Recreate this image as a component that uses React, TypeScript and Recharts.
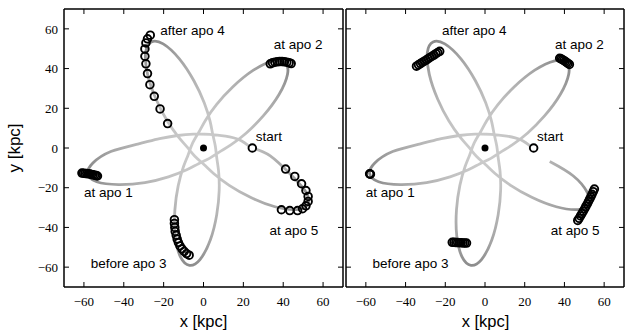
import React from 'react';
import { ScatterChart, Scatter, XAxis, YAxis } from 'recharts';

type Pt = { x: number; y: number };
type Note = { x: number; y: number; text: string };
const pts = (arr: number[][]): Pt[] => arr.map(([x, y]) => ({ x, y }));

// Axis ticks (kpc)
const axisTicks = [-60, -40, -20, 0, 20, 40, 60];
const axisDomain: [number, number] = [-70, 70];

// Orbit track, in time order from the start point through five apocentres
const orbitCommon = [
  [24, 0], [18, 4.1], [11, 6.0], [3, 6.9], [-5, 7.0], [-13, 6.3], [-22, 4.7], [-33, 2.0],
  [-46.5, -1.8], [-55.5, -7.6], [-58.1, -13.0],
  [-53.6, -17.0], [-42.6, -18.4], [-29.4, -17.4], [-17.6, -14.5], [-8.4, -11.0], [-2.5, -7.9],
  [2.95, -5.22], [8.07, -1.95], [13.71, 1.54], [21.5, 7.57], [30.08, 16.27], [37.9, 26.94],
  [42.16, 37.17], [41.03, 43.09], [35.06, 43.92], [25.05, 39.18], [14.78, 30.84], [6.51, 21.85],
  [0.87, 13.77], [-2.34, 7.96], [-5.43, 2.55], [-7.63, -3.27], [-10.06, -9.45], [-12.68, -18.95],
  [-14.35, -31.05], [-14.22, -44.27], [-11.49, -55.01], [-7.04, -59.08], [-1.77, -56.17],
  [3.41, -46.37], [6.64, -33.55], [7.87, -21.4], [7.56, -11.55], [6.65, -4.97], [5.92, 1.01],
  [4.63, 6.89], [3.31, 13.4], [0.36, 22.8], [-4.82, 33.86], [-12.11, 44.9], [-20.23, 52.43],
  [-26.17, 53.43], [-29.03, 48.12], [-28.05, 37.09], [-23.8, 24.56], [-18.23, 13.69],
  [-12.62, 5.59], [-8.28, 0.56], [-4.33, -4.15], [0.22, -8.3], [5.06, -12.84], [12.91, -18.79],
  [23.54, -24.81], [35.88, -29.58], [46.87, -31.02], [52.29, -28.39], [51.54, -22.41],
  [44.35, -13.98],
];
const orbitLeft = pts([...orbitCommon, [33.5, -4.0], [24.5, 0]]);
const orbitRight = pts([...orbitCommon, [32.6, -6.8]]);

// Stream particles, left panel
const leftApo1 = pts([
  [-61, -12.6], [-60.2, -12.7], [-59.4, -12.8], [-58.6, -12.9], [-57.8, -13.0], [-57, -13.1],
  [-56.2, -13.3], [-55.4, -13.5], [-54.6, -13.7], [-53.8, -13.9], [-53.2, -14.1],
]);
const leftApo2 = pts([
  [33.5, 42.4], [34.6, 42.9], [35.8, 43.2], [37, 43.4], [38.2, 43.5], [39.4, 43.5],
  [40.6, 43.4], [41.8, 43.2], [43, 42.9], [44, 42.5],
]);
const leftApo3 = pts([
  [-14.6, -36.1], [-14.6, -38.0], [-14.4, -40.0], [-14.2, -42.0], [-13.7, -44.0], [-13.2, -45.9],
  [-12.6, -47.6], [-11.8, -49.3], [-10.8, -50.8], [-9.7, -52.1], [-8.5, -53.2], [-7.2, -54.0],
]);
const leftApo4 = pts([
  [-26.7, 56.8], [-28.1, 55], [-28.9, 52.9], [-29.4, 49.9], [-29.4, 46.2], [-28.9, 42.4],
  [-28.1, 37.5], [-26.9, 31.9], [-24.7, 26], [-21.8, 19.7], [-18, 12.3],
]);
const leftApo5 = pts([
  [41.2, -10.6], [45.8, -14.3], [49.2, -18], [51.4, -21.4], [52.5, -24.4], [52.5, -26.9],
  [51.4, -29.1], [49.7, -30.6], [47.2, -31.5], [43.3, -31.5], [39.1, -31.1],
]);

// Stream particles, right panel
const rightApo1 = pts([[-58.1, -13.0], [-57.9, -13.1], [-57.7, -13.2]]);
const rightApo2 = pts([
  [37.6, 45.2], [38.3, 44.9], [39.0, 44.5], [39.7, 44.1], [40.4, 43.6], [41.1, 43.1],
  [41.8, 42.6], [42.5, 42.1],
]);
const rightApo3 = pts([
  [-16.5, -47.5], [-15.6, -47.5], [-14.7, -47.6], [-13.8, -47.6], [-12.9, -47.7], [-12, -47.7],
  [-11.1, -47.8], [-10.2, -47.8], [-9.3, -47.9],
]);
const rightApo4 = pts([
  [-34.5, 41.2], [-33.5, 41.9], [-32.5, 42.5], [-31.6, 43.1], [-30.6, 43.7], [-29.6, 44.3],
  [-28.6, 45.0], [-27.7, 45.6], [-26.7, 46.2], [-25.7, 46.8], [-24.7, 47.5], [-23.8, 48.1],
  [-22.8, 48.7],
]);
const rightApo5 = pts([
  [46.7, -36.5], [47.4, -35.4], [48.1, -34.2], [48.8, -33.0], [49.5, -31.8], [50.2, -30.6],
  [50.8, -29.4], [51.5, -28.2], [52.1, -27.0], [52.7, -25.8], [53.3, -24.6], [53.9, -23.3],
  [54.5, -22.0], [55.1, -20.7],
]);

const startPoint = pts([[24.5, 0]]);
const centre = pts([[0, 0]]);

// Annotation anchors (text start, baseline) in kpc
const notes: Note[] = [
  { x: -21.7, y: 57.1, text: 'after apo 4' },
  { x: 35.2, y: 50.1, text: 'at apo 2' },
  { x: 26.2, y: 3.3, text: 'start' },
  { x: -60, y: -24.9, text: 'at apo 1' },
  { x: 33.1, y: -43.7, text: 'at apo 5' },
  { x: -56.6, y: -60.5, text: 'before apo 3' },
];

const SANS = "'Liberation Sans', Arial, Helvetica, sans-serif";
const SERIF = "'Liberation Serif', 'DejaVu Serif', serif";

const fmt = (v: number) => (v < 0 ? '\u2212' + Math.abs(v) : String(v));

const BottomTick = (p: any) => (
  <g>
    <line x1={p.x} x2={p.x} y1={p.y} y2={p.y - 5} stroke="#000" strokeWidth={1} />
    <text x={p.x} y={p.y + 19} textAnchor="middle" fontFamily={SERIF} fontSize={13} fill="#000">
      {fmt(p.payload.value)}
    </text>
  </g>
);
const TopTick = (p: any) => (
  <line x1={p.x} x2={p.x} y1={p.y} y2={p.y + 5} stroke="#000" strokeWidth={1} />
);
const LeftTickLabelled = (p: any) => (
  <g>
    <line x1={p.x} x2={p.x + 5} y1={p.y} y2={p.y} stroke="#000" strokeWidth={1} />
    <text x={p.x - 6} y={p.y} dy="0.36em" textAnchor="end" fontFamily={SERIF} fontSize={13} fill="#000">
      {fmt(p.payload.value)}
    </text>
  </g>
);
const LeftTickBare = (p: any) => (
  <line x1={p.x} x2={p.x + 5} y1={p.y} y2={p.y} stroke="#000" strokeWidth={1} />
);
const RightTick = (p: any) => (
  <line x1={p.x} x2={p.x - 5} y1={p.y} y2={p.y} stroke="#000" strokeWidth={1} />
);

const Blank = () => <g />;
const Ring = (p: any) =>
  p.cx == null ? <g /> : (
    <circle cx={p.cx} cy={p.cy} r={3.8} fill="none" stroke="#000" strokeWidth={1.9} />
  );
const StartRing = (p: any) =>
  p.cx == null ? <g /> : (
    <circle cx={p.cx} cy={p.cy} r={3.8} fill="#fff" stroke="#000" strokeWidth={1.9} />
  );
const Dot = (p: any) =>
  p.cx == null ? <g /> : <circle cx={p.cx} cy={p.cy} r={3.5} fill="#000" />;
const NoteText = (p: any) =>
  p.cx == null ? <g /> : (
    <text x={p.cx} y={p.cy} fontFamily={SANS} fontSize={13.5} fill="#000">
      {p.payload.text}
    </text>
  );

const frame = { stroke: '#000', strokeWidth: 1.5 };

type PanelProps = {
  left: number;
  width: number;
  yAxisWidth: number;
  showYLabels: boolean;
  orbit: Pt[];
  groups: Pt[][];
};

function Panel({ left, width, yAxisWidth, showYLabels, orbit, groups }: PanelProps) {
  return (
    <div style={{ position: 'absolute', left, top: 0 }}>
      <ScatterChart width={width} height={331} margin={{ top: 8, right: 1, bottom: 0, left: 0 }}>
        <XAxis
          dataKey="x"
          type="number"
          domain={axisDomain}
          ticks={axisTicks}
          interval={0}
          allowDataOverflow
          height={44}
          tickSize={0}
          tickMargin={0}
          tickLine={false}
          tick={BottomTick}
          axisLine={frame}
        />
        <XAxis
          xAxisId="top"
          orientation="top"
          dataKey="x"
          type="number"
          domain={axisDomain}
          ticks={axisTicks}
          interval={0}
          allowDataOverflow
          height={1}
          tickSize={0}
          tickMargin={0}
          tickLine={false}
          tick={TopTick}
          axisLine={frame}
        />
        <YAxis
          dataKey="y"
          type="number"
          domain={axisDomain}
          ticks={axisTicks}
          interval={0}
          allowDataOverflow
          width={yAxisWidth}
          tickSize={0}
          tickMargin={0}
          tickLine={false}
          tick={showYLabels ? LeftTickLabelled : LeftTickBare}
          axisLine={frame}
        />
        <YAxis
          yAxisId="right"
          orientation="right"
          dataKey="y"
          type="number"
          domain={axisDomain}
          ticks={axisTicks}
          interval={0}
          allowDataOverflow
          width={1}
          tickSize={0}
          tickMargin={0}
          tickLine={false}
          tick={RightTick}
          axisLine={frame}
        />
        <Scatter
          data={orbit}
          shape={Blank}
          line={{ stroke: 'url(#orbitShade)', strokeWidth: 2.8, fill: 'none', strokeLinejoin: 'round' }}
          lineType="joint"
          lineJointType="natural"
          isAnimationActive={false}
        />
        {groups.map((g, i) => (
          <Scatter key={i} data={g} shape={Ring} isAnimationActive={false} />
        ))}
        <Scatter data={startPoint} shape={StartRing} isAnimationActive={false} />
        <Scatter data={centre} shape={Dot} isAnimationActive={false} />
        <Scatter data={notes} shape={NoteText} isAnimationActive={false} />
      </ScatterChart>
    </div>
  );
}

export default function App() {
  return (
    <div style={{ position: 'absolute', left: 0, top: 0, width: 627, height: 331, background: '#fff' }}>
      <svg width={0} height={0} style={{ position: 'absolute' }}>
        <defs>
          <radialGradient id="orbitShade" cx="0.52" cy="0.48" r="0.55">
            <stop offset="0" stopColor="#cdcdcd" />
            <stop offset="0.35" stopColor="#c2c2c2" />
            <stop offset="0.75" stopColor="#a5a5a5" />
            <stop offset="1" stopColor="#878787" />
          </radialGradient>
        </defs>
      </svg>
      <Panel
        left={0}
        width={345}
        yAxisWidth={64}
        showYLabels
        orbit={orbitLeft}
        groups={[leftApo1, leftApo2, leftApo3, leftApo4, leftApo5]}
      />
      <Panel
        left={345}
        width={281}
        yAxisWidth={1}
        showYLabels={false}
        orbit={orbitRight}
        groups={[rightApo1, rightApo2, rightApo3, rightApo4, rightApo5]}
      />
      <div style={{ position: 'absolute', left: 64, width: 279, top: 312, textAlign: 'center', font: `16.5px ${SANS}` }}>
        x [kpc]
      </div>
      <div style={{ position: 'absolute', left: 346, width: 279, top: 312, textAlign: 'center', font: `16.5px ${SANS}` }}>
        x [kpc]
      </div>
      <div
        style={{
          position: 'absolute',
          left: 15,
          top: 148,
          transform: 'translate(-50%, -50%) rotate(-90deg)',
          whiteSpace: 'nowrap',
          font: `17px ${SANS}`,
        }}
      >
        y [kpc]
      </div>
    </div>
  );
}
